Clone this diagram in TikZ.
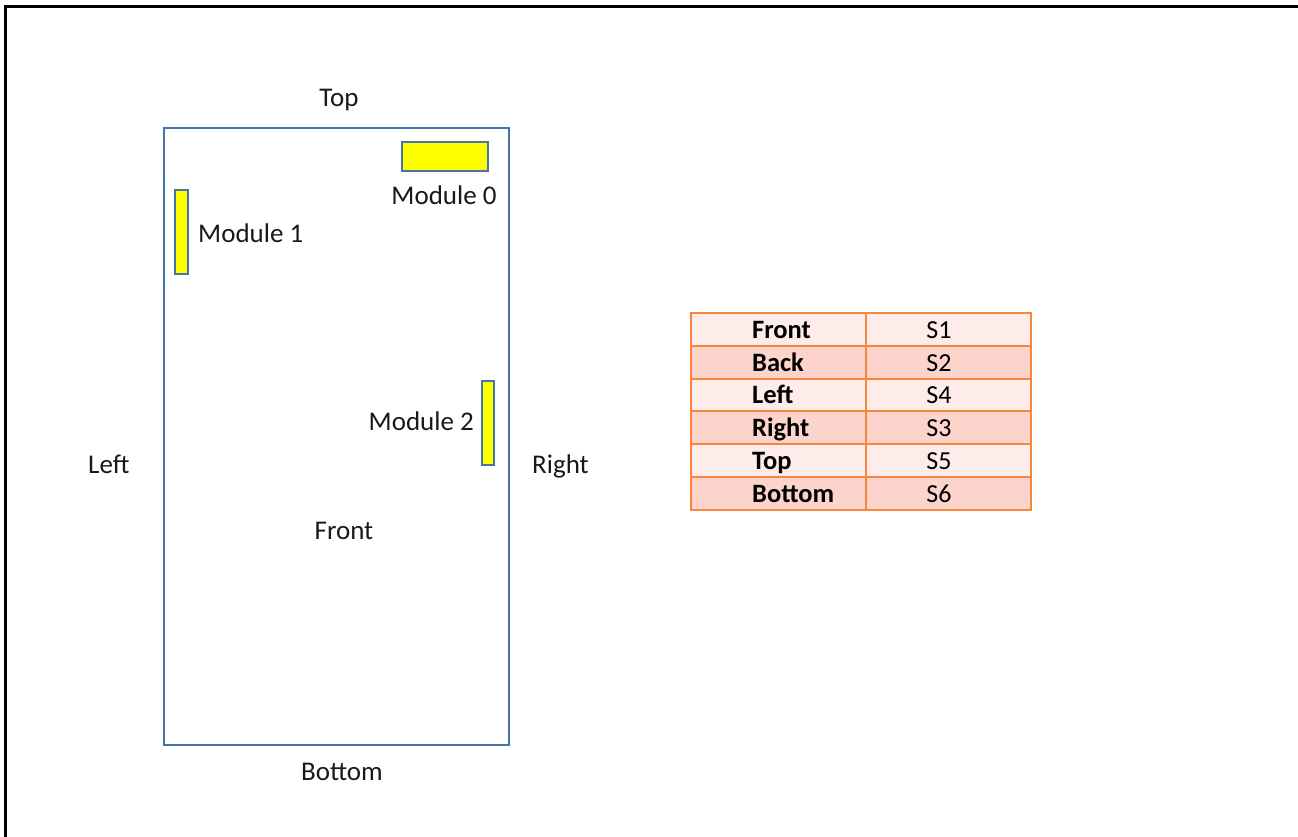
\documentclass[tikz,border=0pt]{standalone}
\usepackage{fontspec}
\setmainfont{Carlito}
\definecolor{boxblue}{HTML}{4673A8}
\definecolor{modyellow}{HTML}{FFFF00}
\definecolor{tabline}{HTML}{F5873E}
\definecolor{rowlight}{HTML}{FDECEA}
\definecolor{rowdark}{HTML}{FCD4CB}
\tikzset{
  px/.style={x=1pt,y=-1pt},
  lbl/.style={inner sep=0pt,font=\fontsize{27}{31}\selectfont,text=black!90},
  tab/.style={inner sep=0pt,font=\fontsize{26}{30}\selectfont,text=black},
  tabb/.style={tab,font=\fontsize{26.5}{30}\selectfont\bfseries},
  module/.style={draw=boxblue,line width=1.6pt,fill=modyellow,inner sep=0pt},
  frame/.style={draw=black,line width=3pt},
}
\begin{document}
\begin{tikzpicture}[px]
\useasboundingbox (0,0) rectangle (1298,837);
% outer frame (top and left only)
\coordinate (fa) at (5,837);
\coordinate (fb) at (5,7);
\coordinate (fc) at (1298,7);
\draw[frame] (fa) -- (fb) -- (fc);
% device outline
\node[draw=boxblue,line width=1.8pt,minimum width=345pt,minimum height=617pt,inner sep=0pt] (dev) at (336.5,436.5) {};
% modules
\node[module,minimum width=86pt,minimum height=29pt] (m0) at (445,156.5) {};
\node[module,minimum width=13pt,minimum height=84pt] (m1) at (181.5,232) {};
\node[module,minimum width=12pt,minimum height=84pt] (m2) at (488,423) {};
% labels
\node[lbl,anchor=base] (ltop) at (339,107) {Top};
\node[lbl,anchor=base] (lm0) at (444,205) {Module 0};
\node[lbl,anchor=base west] (lm1) at (198,242) {Module 1};
\node[lbl,anchor=base east] (lm2) at (474,430) {Module 2};
\node[lbl,anchor=base west] (lleft) at (88,473) {Left};
\node[lbl,anchor=base west] (lright) at (532,473) {Right};
\node[lbl,anchor=base] (lfront) at (344,539) {Front};
\node[lbl,anchor=base] (lbottom) at (342,780) {Bottom};
% table
\fill[rowlight] (691,313) rectangle (1031,346);
\fill[rowdark]  (691,346) rectangle (1031,379);
\fill[rowlight] (691,379) rectangle (1031,411);
\fill[rowdark]  (691,411) rectangle (1031,444);
\fill[rowlight] (691,444) rectangle (1031,477);
\fill[rowdark]  (691,477) rectangle (1031,510);
\draw[tabline,line width=2.2pt] (691,313) rectangle (1031,510);
\draw[tabline,line width=2.2pt] (866,313) -- (866,510);
\foreach \yy in {346,379,411,444,477} \draw[tabline,line width=2.2pt] (691,\yy) -- (1031,\yy);
\node[tabb,anchor=base west] (t1a) at (752,338) {Front};
\node[tab,anchor=base] (t1b) at (939,338) {S1};
\node[tabb,anchor=base west] (t2a) at (752,371) {Back};
\node[tab,anchor=base] (t2b) at (939,371) {S2};
\node[tabb,anchor=base west] (t3a) at (752,403.5) {Left};
\node[tab,anchor=base] (t3b) at (939,403.5) {S4};
\node[tabb,anchor=base west] (t4a) at (752,436) {Right};
\node[tab,anchor=base] (t4b) at (939,436) {S3};
\node[tabb,anchor=base west] (t5a) at (752,469) {Top};
\node[tab,anchor=base] (t5b) at (939,469) {S5};
\node[tabb,anchor=base west] (t6a) at (752,502) {Bottom};
\node[tab,anchor=base] (t6b) at (939,502) {S6};
\end{tikzpicture}
\end{document}
